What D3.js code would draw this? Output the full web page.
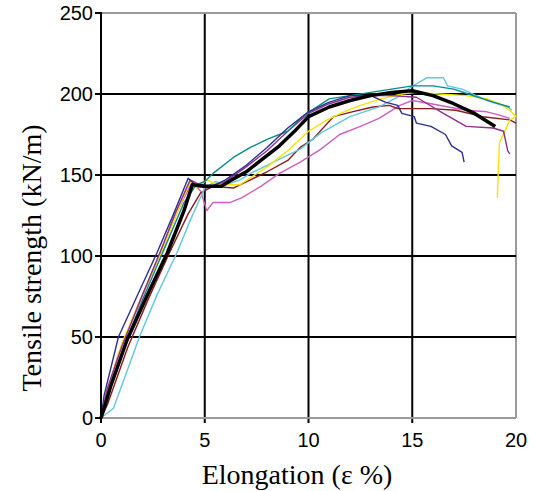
<!DOCTYPE html>
<html>
<head>
<meta charset="utf-8">
<script src="https://cdn.jsdelivr.net/npm/d3@7"></script>
<style>
  body { margin: 0; background: #fff; }
  svg { display: block; }
</style>
</head>
<body>
<div id="chart"></div>
<script>
// tick values
const xTicks = [0, 5, 10, 15, 20]
const yTicks = [0, 50, 100, 150, 200, 250]

// one array per specimen curve, [elongation %, strength kN/m]
const navy = [[0,0],[0.15,14],[0.84,50],[1.8,77],[2.7,102],[3.5,126],[4.2,148],[4.6,143],[5.2,142],[6,147],[7,156],[8,167],[9,179],[10,189],[11,195],[12,199],[13,199],[13.7,195],[14.3,193],[14.5,188],[15.1,186],[15.2,182],[15.9,180],[16.6,175],[16.9,168],[17.4,164],[17.5,158]]
const teal = [[0,0],[0.3,14],[1.1,44],[2,73],[3,103],[4,133],[4.6,144],[5,146],[5.4,151],[6.4,161],[7.2,167],[8,172],[9,177],[9.8,187],[11,197],[12,199],[13,201],[14,203],[15,205],[16,205],[17,203],[17.7,200],[18.9,195],[19.7,192]]
const cyan = [[0,0],[0.6,6],[1.2,27],[1.85,50],[2.7,76],[3.66,102],[4.3,122],[5,142],[5.5,146],[6,144],[6.7,147],[7.2,151],[8,156],[8.8,161],[9.6,166],[10.6,176],[12,186],[13.4,192],[14.3,198],[14.9,204],[15.7,210],[16.5,210],[16.7,205],[17.4,203],[18.6,196],[19.6,192],[19.8,190]]
const yellow = [[0,0],[0.2,12],[1,46],[2,76],[2.9,102],[3.7,128],[4.3,146],[4.6,142],[5.1,147],[5.6,144],[6.7,144],[8,155],[9,165],[10,177],[10.9,184],[11.7,189],[12.5,193],[13.5,197],[14.5,200],[15.2,201],[16.3,200],[17.6,199],[18.6,197],[19.2,194],[19.7,190],[20,186],[19.7,184],[19.5,178],[19.2,170],[19.1,136]]
const darkRed = [[0,0],[0.3,8],[1.3,44],[2.3,74],[3.3,102],[4.2,126],[4.8,139],[5.4,143],[6.4,142],[7.2,147],[8,152],[9,159],[9.6,167],[10.2,172],[11.2,186],[12.1,189],[13.1,192],[13.9,193],[14.3,191],[15.9,191],[17.1,190],[18.4,186],[19.7,184],[20,182]]
const magenta = [[0,0],[0.2,12],[0.8,38],[1.8,70],[2.8,100],[3.7,128],[4.4,146],[4.8,140],[5.1,128],[5.4,133],[6.2,133],[6.8,136],[7.7,143],[8.6,151],[9.6,158],[10.6,166],[11.5,175],[12.5,180],[13.4,185],[13.9,189],[14.4,193],[15,196],[15.9,194],[17.6,190],[18.6,189],[19.2,187],[19.7,185]]
const purple = [[0,0],[0.3,18],[1,44],[2,76],[2.9,104],[3.6,127],[4.3,147],[4.6,145],[5.2,143],[6,146],[7,155],[8,165],[9,177],[10,188],[11,194],[12,198],[13,199],[14,199],[15.2,198],[16.5,188],[17.6,180],[18.9,179],[19.4,177],[19.6,165],[19.7,163]]
const average = [[0,0],[0.2,8],[0.45,19],[1.25,48],[2.2,75],[3.2,102],[4,128],[4.4,144],[5,143],[5.8,143],[6.3,147],[7,152],[7.7,159],[8.6,168],[9.4,178],[10,186],[11,192],[12,196],[13,199],[14,201],[15,202],[16,199],[17,194],[18,188],[19,180]]

const curves = [
  { data: magenta, color: "#cc5fbf" },
  { data: darkRed, color: "#8b1a1a" },
  { data: cyan, color: "#5fc8de" },
  { data: yellow, color: "#f5e400" },
  { data: purple, color: "#8e2f8e" },
  { data: teal, color: "#0a8a8a" },
  { data: navy, color: "#2e2e8c" }
]

const width = 534, height = 491
const margin = { top: 13, right: 18, bottom: 73, left: 101 }

const x = d3.scaleLinear().domain([0, 20]).range([margin.left, width - margin.right])
const y = d3.scaleLinear().domain([0, 250]).range([height - margin.bottom, margin.top])

const svg = d3.select("#chart").append("svg")
  .attr("width", width)
  .attr("height", height)

// grid lines (inner ones black, frame gray except the left axis)
svg.append("g").selectAll("line")
  .data(xTicks)
  .join("line")
  .attr("x1", d => x(d)).attr("x2", d => x(d))
  .attr("y1", y(250)).attr("y2", d => d == 20 ? y(0) : y(0) + 5)
  .attr("stroke", d => d == 20 ? "#9a9a9a" : "#000")
  .attr("stroke-width", 2)

svg.append("g").selectAll("line")
  .data(yTicks)
  .join("line")
  .attr("x1", x(0) - 6).attr("x2", x(20))
  .attr("y1", d => y(d)).attr("y2", d => y(d))
  .attr("stroke", d => (d == 0 || d == 250) ? "#9a9a9a" : "#000")
  .attr("stroke-width", 2)

// small black stubs for the gray frame ticks
svg.append("g").selectAll("line")
  .data([0, 250])
  .join("line")
  .attr("x1", x(0) - 6).attr("x2", x(0))
  .attr("y1", d => y(d)).attr("y2", d => y(d))
  .attr("stroke", "#000")
  .attr("stroke-width", 2)

// tick labels
svg.append("g").selectAll("text")
  .data(yTicks)
  .join("text")
  .attr("x", x(0) - 8)
  .attr("y", d => y(d))
  .attr("dy", "0.36em")
  .attr("text-anchor", "end")
  .style("font-family", "Liberation Sans, Arial, sans-serif")
  .style("font-size", "20px")
  .text(d => d)

svg.append("g").selectAll("text")
  .data(xTicks)
  .join("text")
  .attr("x", d => x(d))
  .attr("y", y(0) + 29)
  .attr("text-anchor", "middle")
  .style("font-family", "Liberation Sans, Arial, sans-serif")
  .style("font-size", "20px")
  .text(d => d)

// curves
let line = d3.line().x(d => x(d[0])).y(d => y(d[1]))

svg.append("g").selectAll("path")
  .data(curves)
  .join("path")
  .attr("d", d => line(d.data))
  .attr("fill", "none")
  .attr("stroke", d => d.color)
  .attr("stroke-width", 1.4)
  .attr("stroke-linejoin", "round")

svg.append("path")
  .attr("d", line(average))
  .attr("fill", "none")
  .attr("stroke", "#000")
  .attr("stroke-width", 3.5)
  .attr("stroke-linejoin", "round")

// left axis line on top
svg.append("line")
  .attr("x1", x(0)).attr("x2", x(0))
  .attr("y1", y(250) - 1).attr("y2", y(0) + 1)
  .attr("stroke", "#000")
  .attr("stroke-width", 2)

// axis titles
svg.append("text")
  .attr("x", 297)
  .attr("y", 484)
  .attr("text-anchor", "middle")
  .style("font-family", "Liberation Serif, Times New Roman, serif")
  .style("font-size", "28px")
  .text("Elongation (ε %)")

svg.append("text")
  .attr("transform", "translate(41,258) rotate(-90)")
  .attr("text-anchor", "middle")
  .style("font-family", "Liberation Serif, Times New Roman, serif")
  .style("font-size", "28px")
  .text("Tensile strength (kN/m)")
</script>
</body>
</html>
